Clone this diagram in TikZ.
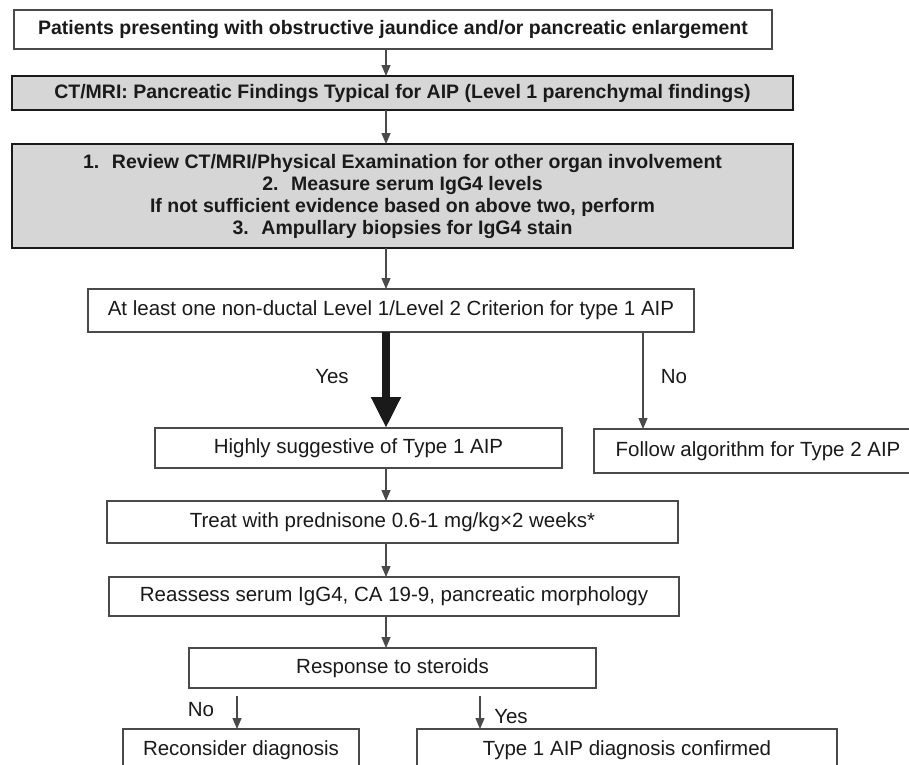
\documentclass[tikz,border=0pt]{standalone}
\usepackage{fontspec}
\setmainfont{Liberation Sans}
\usepackage{tikz}
\usetikzlibrary{arrows.meta,positioning}
\definecolor{FlowInk}{HTML}{1A1A1A}
\definecolor{FlowEdge}{HTML}{4A4A4A}
\definecolor{FlowShade}{HTML}{D6D6D6}

\begin{document}
\begin{tikzpicture}[x=1pt, y=-1pt, every node/.style={font=\fontsize{20.5}{24}\selectfont, text=FlowInk}, boldtext/.style={font=\fontsize{19.5}{22}\selectfont\bfseries}, box/.style={draw=FlowEdge, line width=1.3pt, fill=white, outer sep=0pt, inner sep=2pt, align=center}, keybox/.style={box, boldtext, draw=FlowInk, line width=2.6pt, fill=FlowShade}, arrow/.style={-{Triangle[width=9pt,length=11pt]}, line width=1.2pt, color=FlowEdge}, bigarrow/.style={-{Triangle[width=28pt,length=31pt]}, line width=8pt, color=FlowInk}]
\useasboundingbox (0,0) rectangle (909,764);
\fill[white] (0,0) rectangle (909,764);
\clip (0,0) rectangle (909,764);
\node[box, boldtext, minimum width=758pt, minimum height=39pt] (a) at (393,29.5) {Patients presenting with obstructive jaundice and/or pancreatic enlargement};
\node[keybox, minimum width=781pt, minimum height=34pt] (b) [below=27pt of a, xshift=9.5pt] {CT/MRI: Pancreatic Findings Typical for AIP (Level 1 parenchymal findings)};
\node[keybox, minimum width=781pt, minimum height=104pt] (c) [below=34pt of b] {1.~ Review CT/MRI/Physical Examination for other organ involvement\\2.~ Measure serum IgG4 levels\\If not sufficient evidence based on above two, perform\\3.~ Ampullary biopsies for IgG4 stain};
\node[box, minimum width=606pt, minimum height=43pt] (d) [below=41pt of c, xshift=-11.5pt] {At least one non-ductal Level 1/Level 2 Criterion for type 1 AIP};
\node[box, minimum width=407pt, minimum height=40pt] (e) [below=96pt of d, xshift=-32.5pt] {Highly suggestive of Type 1 AIP};
\node[box, minimum width=328pt, minimum height=44pt] (f) [right=32pt of e, yshift=-3pt] {Follow algorithm for Type 2 AIP};
\node[box, minimum width=571pt, minimum height=42pt] (g) [below=33pt of e, xshift=34pt] {Treat with prednisone 0.6-1 mg/kg×2 weeks*};
\node[box, minimum width=570pt, minimum height=39pt] (h) [below=34pt of g, xshift=1.5pt] {Reassess serum IgG4, CA 19-9, pancreatic morphology};
\node[box, minimum width=407pt, minimum height=40pt] (i) [below=32pt of h, xshift=-1.5pt] {Response to steroids};
\node[box, minimum width=236pt, minimum height=42pt] (j) [below=41pt of i, xshift=-151.5pt] {Reconsider diagnosis};
\node[box, minimum width=420pt, minimum height=42pt] (k) [below=41pt of i, xshift=234.5pt] {Type 1 AIP diagnosis confirmed};
\node (yes1) at (332,377) {Yes};
\node (no1) at (674,377) {No};
\node (no2) at (201,710) {No};
\node (yes2) at (511,717) {Yes};
\coordinate (col) at (386,0);
\coordinate (nocol) at (643,0);
\coordinate (nostart) at (237,696);
\coordinate (yesstart) at (480,696);
\draw[arrow] (a.south -| col)--(b.north -| col); \draw[arrow] (b.south -| col)--(c.north -| col); \draw[arrow] (c.south -| col)--(d.north -| col);
\draw[bigarrow] (d.south -| col)--(e.north -| col);
\draw[arrow] (d.south -| nocol)--(f.north -| nocol);
\draw[arrow] (e.south -| col)--(g.north -| col); \draw[arrow] (g.south -| col)--(h.north -| col); \draw[arrow] (h.south -| col)--(i.north -| col);
\draw[arrow] (nostart)--(j.north -| nostart); \draw[arrow] (yesstart)--(k.north -| yesstart);
\end{tikzpicture}
\end{document}
